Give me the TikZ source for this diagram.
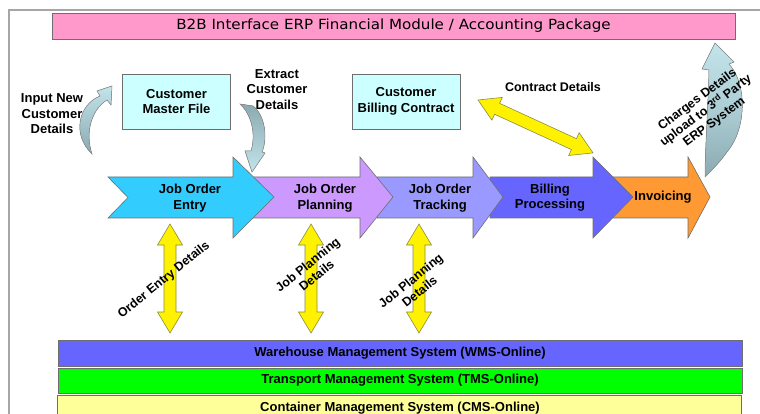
\documentclass[tikz,border=0pt]{standalone}
\usepackage{fontspec}
\setmainfont{Liberation Sans}
\newfontfamily\verdfont[FakeStretch=1.08]{DejaVu Sans}
\definecolor{pinkb}{HTML}{FF99CC}
\definecolor{cyanbox}{HTML}{CCFFFF}
\definecolor{entryc}{HTML}{33CCFF}
\definecolor{planc}{HTML}{CC99FF}
\definecolor{trackc}{HTML}{9999FF}
\definecolor{billc}{HTML}{6666FF}
\definecolor{invc}{HTML}{FF9933}
\definecolor{wmsc}{HTML}{6666FF}
\definecolor{tmsc}{HTML}{00FF00}
\definecolor{cmsc}{HTML}{FFFF99}
\definecolor{curvl}{HTML}{C4E4EC}
\definecolor{curvd}{HTML}{8AAAB0}
\definecolor{edgec}{HTML}{6E6E6E}
\definecolor{yedge}{HTML}{8C8C40}
\newcommand\yarrow[3]{%
  \begin{scope}[shift={(#1)}, rotate=#2]
    \filldraw[yarr] (0,0) -- (21,12.5) -- (21,6) -- (#3-21,6) -- (#3-21,12.5) -- (#3,0)
      -- (#3-21,-12.5) -- (#3-21,-6) -- (21,-6) -- (21,-12.5) -- cycle;
  \end{scope}}
\begin{document}
\begin{tikzpicture}[x=1pt,y=-1pt,
  lbl/.style={font=\fontsize{13}{15.5}\selectfont\bfseries, align=center, inner sep=0pt},
  rotlbl/.style={font=\fontsize{12.5}{14}\selectfont\bfseries, align=center, inner sep=0pt},
  barfnt/.style={font=\fontsize{13}{15}\selectfont\bfseries},
  barlbl/.style={barfnt, draw=edgec, line width=0.8pt, inner sep=0pt, minimum width=684, align=center},
  box/.style={draw=edgec, line width=0.8pt, fill=cyanbox, lbl, minimum width=108, minimum height=55},
  proc/.style={draw=edgec, line width=0.6pt},
  yarr/.style={fill=yellow, draw=yedge, line width=0.6pt},
  curv/.style={draw=edgec!80, line width=0.5pt}]
\useasboundingbox (0,0) rectangle (760,414);
% frame
\draw[gray!70, line width=1.2pt] (9,414) -- (9,10) -- (760,10);
% banner
\node[draw=edgec, line width=0.8pt, fill=pinkb, minimum width=683, minimum height=26, inner sep=0pt,
  font=\verdfont\fontsize{14}{16}\selectfont] (erp) at (393.5,26) {B2B Interface ERP Financial Module / Accounting Package};
% boxes
\node[box] (cmf) at (176.5,101.5) {Customer\\Master File};
\node[box] (cbc) at (406,101.5) {Customer\\Billing Contract};
% free labels
\node[lbl] (inp) at (52,114) {Input New\\Customer\\Details};
\node[lbl] (ext) at (277,89.5) {Extract\\Customer\\Details};
\node[lbl, font=\fontsize{12.5}{15}\selectfont\bfseries] (cdt) at (553,87) {Contract Details};
% process arrows (back to front)
\filldraw[proc, fill=invc] (610,177) -- (688,177) -- (688,157) -- (710,197) -- (688,238) -- (688,218) -- (610,218) -- cycle;
\filldraw[proc, fill=billc] (490,177) -- (593,177) -- (593,157) -- (633,197) -- (593,238) -- (593,218) -- (490,218) -- cycle;
\filldraw[proc, fill=trackc] (377,177) -- (473,177) -- (473,157) -- (503,197) -- (473,238) -- (473,218) -- (377,218) -- cycle;
\filldraw[proc, fill=planc] (250,177) -- (360,177) -- (360,157) -- (393,197) -- (360,238) -- (360,218) -- (250,218) -- cycle;
\filldraw[proc, fill=entryc] (108,177) -- (233,177) -- (233,157) -- (274,197) -- (233,238) -- (233,218) -- (108,218) -- (128,197.5) -- cycle;
\node[lbl] (joe) at (190,198) {Job Order\\Entry};
\node[lbl] (jop) at (325,198) {Job Order\\Planning};
\node[lbl] (jot) at (440,198) {Job Order\\Tracking};
\node[lbl] (bp) at (550,197.5) {Billing\\Processing};
\node[lbl] (inv) at (663,197) {Invoicing};
% curved arrows
\filldraw[curv, top color=curvl, bottom color=curvd]
  (92,154) .. controls (72,135) and (78,105) .. (100,96) -- (97,91) -- (112,86) -- (111,105)
  -- (107,100) .. controls (91,110) and (85,133) .. (92,154) -- cycle;
\filldraw[curv, top color=curvd, bottom color=curvl]
  (240,104) -- (253,106) .. controls (265,115) and (268,138) .. (262,152) -- (265,153) -- (252,172)
  -- (245,151) -- (251,151) .. controls (256,135) and (252,115) .. (240,104) -- cycle;
\filldraw[curv, top color=curvl, bottom color=curvd, middle color=curvl!60!curvd]
  (715,43) -- (734,62) -- (729,64) .. controls (748,85) and (746,130) .. (727,152)
  .. controls (720,162) and (712,170) .. (705,177) .. controls (705,150) and (708,110) .. (709,70)
  -- (702,69) -- cycle;
% yellow arrows
\yarrow{170,224}{-90}{109}
\yarrow{311,224}{-90}{109}
\yarrow{419,224}{-90}{109}
\yarrow{478,100}{-24.7}{126.6}
% rotated labels
\node[rotlbl, rotate=39] (oed) at (164,280) {Order Entry Details};
\node[rotlbl, rotate=39] (jpd1) at (312,270) {Job Planning\\Details};
\node[rotlbl, rotate=39] (jpd2) at (415,286) {Job Planning\\Details};
\node[rotlbl, rotate=37] (chg) at (706,111) {Charges Details\\upload to 3\textsuperscript{rd} Party\\ERP System};
% bottom bars
\node[barlbl, fill=wmsc, minimum height=26] (wms) at (400,353) {Warehouse Management System (WMS-Online)};
\node[barlbl, fill=tmsc, minimum height=25] (tms) at (400,380.5) {Transport Management System (TMS-Online)};
\node[barlbl, fill=cmsc, minimum height=26, anchor=north] (cms) at (399.5,395) {};
\node[barfnt, inner sep=0pt] (cmst) at (400,408) {Container Management System (CMS-Online)};
\end{tikzpicture}
\end{document}
